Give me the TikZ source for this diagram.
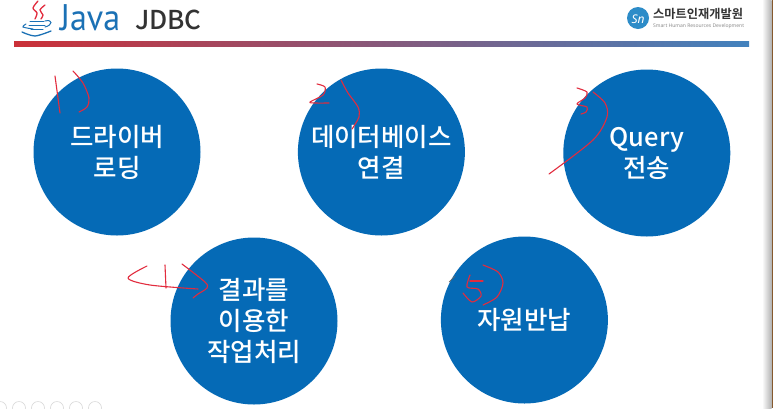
\documentclass[tikz,border=0pt]{standalone}
\usepackage{fontspec}
\setmainfont{Noto Sans}
\newfontfamily\krfont{Noto Sans CJK KR Medium}
\newfontfamily\krboldfont{Noto Sans CJK KR Bold}
\newfontfamily\javafont{PT Sans}
\usepackage{tikz}
\usetikzlibrary{positioning, calc}
\definecolor{stepblue}{RGB}{5,106,182}
\definecolor{inkred}{RGB}{226,44,62}
\definecolor{barred}{RGB}{203,48,56}
\definecolor{barblue}{RGB}{66,130,190}
\definecolor{javablue}{RGB}{27,113,181}
\definecolor{logoblue}{RGB}{45,140,200}
\tikzset{
    stepcircle/.style={circle, fill=stepblue, minimum size=#1, inner sep=0pt, align=center, text=white, font=\krfont\fontsize{25.5}{31}\selectfont},
    inkstroke/.style={draw=inkred, line width=1.1pt, line cap=round, line join=round},
    cupstroke/.style={draw=javablue, line width=1pt, line cap=round},
    steamstroke/.style={draw=inkred, line width=1.3pt, line cap=round}
}
\begin{document}
\begin{tikzpicture}[x=1pt, y=-1pt]
\useasboundingbox (0,0) rectangle (773,408);
\fill[white] (0,0) rectangle (773,408);

% window edge
\shade[left color=white, right color=black!30] (762,0) rectangle (771.5,408);
\fill[brown!70!black] (771.5,0) rectangle (773,408);

% header
\shade[left color=barred, right color=barblue] (14,41) rectangle (749,46.5);
\draw[steamstroke] plot[smooth] coordinates {(38,1) (33,8) (37,13) (35,19)};
\draw[steamstroke] plot[smooth] coordinates {(45,5) (40,10) (43,15) (41,19)};
\draw[cupstroke] (30,21) -- (44,21);
\draw[cupstroke] (29,25) -- (45,25);
\draw[cupstroke] (31,29) -- (43,29);
\draw[cupstroke] (45,21) .. controls (53,19) and (53,25) .. (45,27);
\draw[cupstroke] plot[smooth] coordinates {(26,24) (23,27) (33,29)};
\draw[cupstroke, line width=1.3pt] plot[smooth] coordinates {(22,32) (35,36) (51,31)};
\node[text=javablue, font=\javafont\fontsize{37}{37}\selectfont, xscale=0.92, anchor=base west, inner sep=0pt] (javatitle) at (60,30) {Java};
\node[text=black!80, font=\krfont\fontsize{26}{26}\selectfont, anchor=base west, inner sep=0pt] (jdbctitle) at (135,29.5) {JDBC};

% logo
\fill[logoblue] (638,18) circle (11);
\node[text=white, font=\bfseries\itshape\fontsize{12}{12}\selectfont, inner sep=0pt] (logomark) at (638,19) {Sn};
\node[text=black!80, font=\krboldfont\fontsize{12.2}{12}\selectfont, anchor=west, inner sep=0pt] (logoname) at (653,14) {스마트인재개발원};
\node[text=black!45, font=\fontsize{5}{5}\selectfont, anchor=west, inner sep=0pt] (logosub) at (653,26) {Smart Human Resources Development};

% steps
\node[stepcircle=167pt] (s1) at (117,152) {드라이버\\로딩};
\node[stepcircle=167pt, right=97pt of s1] (s2) {데이터베이스\\연결};
\node[stepcircle=167pt, right=98pt of s2, yshift=-1pt] (s3) {Query\\전송};
\node[stepcircle=167pt] (s4) at (254,321) {결과를\\이용한\\작업처리};
\node[stepcircle=167pt, right=103pt of s4, yshift=1pt] (s5) {자원반납};

% pen marks
\draw[inkstroke] (55,76) -- (60,113);
\draw[inkstroke] plot[smooth] coordinates {(73,71) (83,83) (89,98) (87,107) (79,112)};
\draw[inkstroke] plot[smooth] coordinates {(317,84) (325,87) (323,95) (310,102) (315,103) (329,103)};
\draw[inkstroke] plot[smooth] coordinates {(341,80) (348,93) (358,107) (359,117) (352,129)};
\draw[inkstroke] plot[smooth] coordinates {(577,88) (587,92) (585,98) (577,104) (587,107) (586,112) (581,114)};
\draw[inkstroke] plot[smooth] coordinates {(593,92) (605,103) (607,117) (593,140) (549,174)};
\draw[inkstroke] plot[smooth] coordinates {(147,266) (128,278) (150,285) (198,289)};
\draw[inkstroke] (165,265) -- (166,288);
\draw[inkstroke] plot[smooth] coordinates {(182,264) (205,282) (207,288) (198,294) (193,298)};
\draw[inkstroke] (483,281) -- (470,281);
\draw[inkstroke] plot[smooth] coordinates {(470,275) (467,287) (478,289) (481,296) (472,302) (463,293)};
\draw[inkstroke] plot[smooth] coordinates {(483,265) (498,272) (503,283) (497,297) (483,305)};
\draw[black!60, line width=0.7pt] (449,282) -- (455,276);

% player buttons
\foreach \px in {0,19,38,57,76,95}
    \draw[black!15, line width=0.6pt] (\px,408) circle (6.5);
\end{tikzpicture}
\end{document}
